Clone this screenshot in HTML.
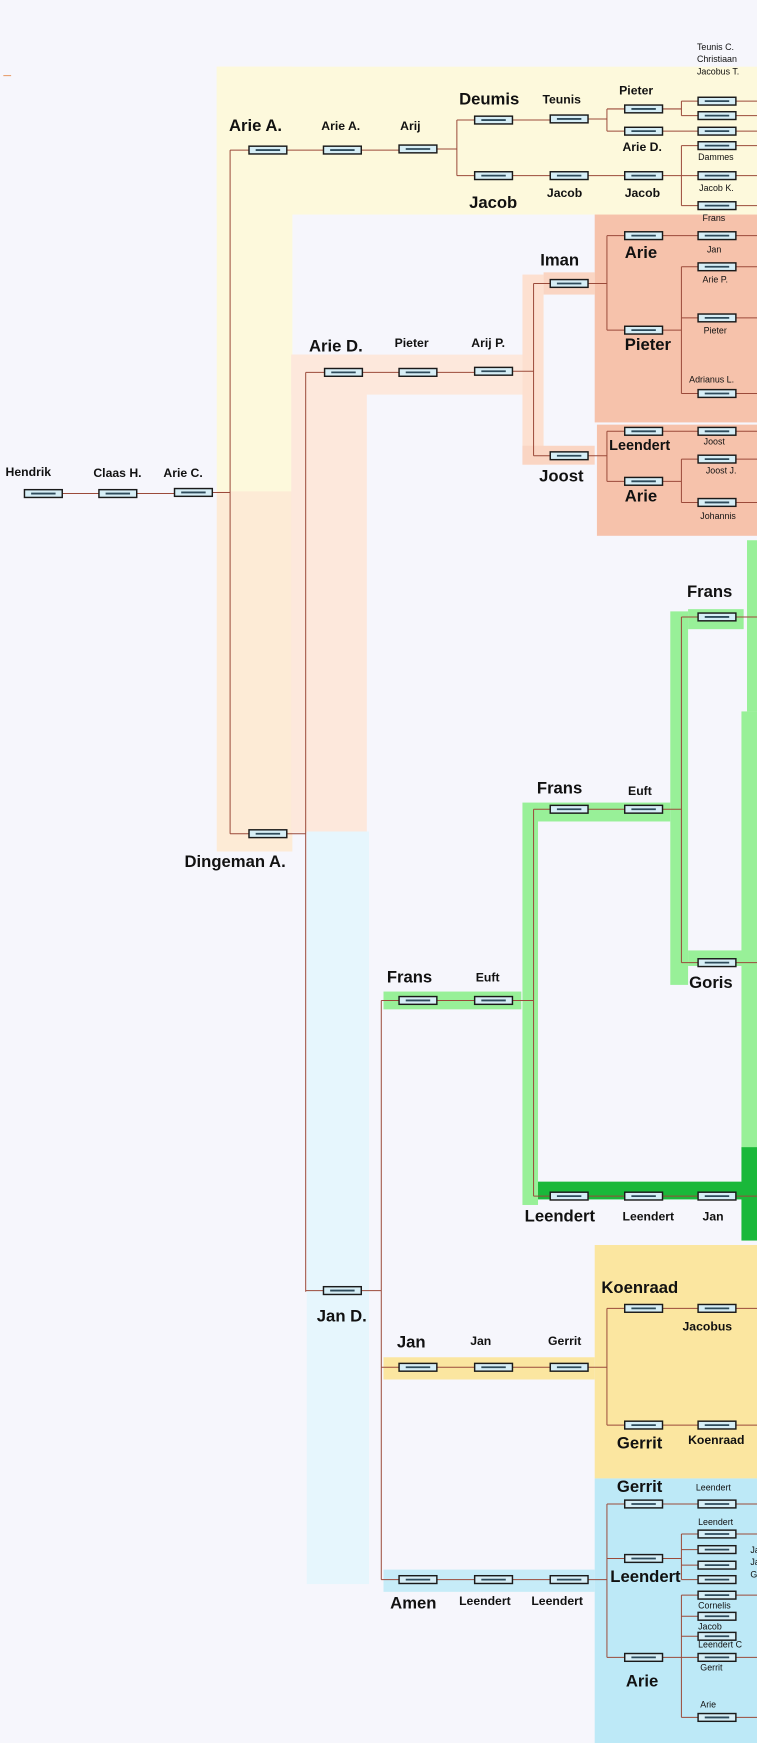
<!DOCTYPE html>
<html><head><meta charset="utf-8"><style>
html,body{margin:0;padding:0;background:#f6f6fc;}
svg{display:block;}
text{font-family:"Liberation Sans",Arial,sans-serif;font-weight:bold;fill:#111;}
.b{font-size:15px;}
.s{font-size:11px;}
.t{font-size:8px;font-weight:normal;}
</style></head><body>
<svg width="757" height="1743" viewBox="0 0 681 1568" preserveAspectRatio="none" xmlns="http://www.w3.org/2000/svg">
<defs>
<g id="n"><rect x="0" y="-3.5" width="34" height="7" fill="#d6eef6" stroke="#1a1a1a" stroke-width="1.3"/><line x1="6" y1="0" x2="28" y2="0" stroke="#2d4a5a" stroke-width="1.6"/></g>
</defs>
<rect width="681" height="1568" fill="#f6f6fc"/>
<line x1="3" y1="68" x2="10" y2="68" stroke="#e8a070" stroke-width="1"/>
<!-- regions -->
<rect x="195" y="60" width="486" height="133" fill="#fdf9dc"/>
<rect x="195" y="60" width="68" height="383" fill="#fdf9dc"/>
<rect x="195" y="442" width="68" height="324" fill="#fdebd6"/>
<rect x="262" y="319" width="68" height="430" fill="#fde8dc"/>
<rect x="262" y="319" width="210" height="36" fill="#fde8dc"/>
<rect x="470" y="247" width="19" height="171" fill="#fde0d0"/>
<rect x="489" y="245" width="46" height="20" fill="#fad5c3"/>
<rect x="470" y="401" width="65" height="17" fill="#fad5c3"/>
<rect x="535" y="193" width="146" height="187" fill="#f6c2ab"/>
<rect x="537" y="382" width="144" height="100" fill="#f6c2ab"/>
<rect x="276" y="748" width="56" height="677" fill="#e6f6fd"/>
<rect x="345" y="1412" width="190" height="20" fill="#c6ecf8"/>
<rect x="345" y="1221" width="190" height="20" fill="#fbe6a0"/>
<rect x="535" y="1120" width="146" height="210" fill="#fbe6a0"/>
<rect x="535" y="1330" width="146" height="238" fill="#bde9f7"/>
<!-- green -->
<rect x="345" y="892" width="124" height="16" fill="#98f098"/>
<rect x="470" y="722" width="14" height="362" fill="#98f098"/>
<rect x="484" y="722" width="119" height="17" fill="#98f098"/>
<rect x="603" y="550" width="16" height="336" fill="#98f098"/>
<rect x="619" y="548" width="50" height="18" fill="#98f098"/>
<rect x="619" y="855" width="50" height="14" fill="#98f098"/>
<rect x="672" y="486" width="9" height="154" fill="#98f098"/>
<rect x="667" y="640" width="14" height="395" fill="#98f098"/>
<rect x="484" y="1063" width="197" height="16" fill="#1ab83a"/>
<rect x="667" y="1032" width="14" height="84" fill="#1ab83a"/>
<rect x="484" y="1079" width="0" height="0" fill="#98f098"/>
<!-- connectors -->
<g stroke="#9b4a3a" stroke-width="0.9" fill="none">
<path d="M56 444H89M123 444H157M191 443H207"/>
<path d="M207 135V750M207 135H224M258 135H291M325 135H359M393 134H411M207 750H224"/>
<path d="M411 108V158M411 108H427M411 158H427M461 108H495M461 158H495M529 107H546M529 158H562"/>
<path d="M546 98V118M546 98H562M546 118H562M596 98H613M613 91V104M613 91H628M613 104H628M596 118H628M596 158H613M613 131V185M613 131H628M613 158H628M613 185H628"/>
<path d="M662 91H681M662 104H681M662 118H681M662 131H681M662 158H681M662 185H681"/>
<path d="M258 750H275M275 335V1162M275 335H292M326 335H359M393 335H427M461 334H480M480 255V410M480 255H495M480 410H495"/>
<path d="M529 255H546M546 212V297M546 212H562M546 297H562M596 212H628M596 297H613M613 240V354M613 240H628M613 286H628M613 354H628"/>
<path d="M529 410H546M546 388V433M546 388H562M546 433H562M596 388H628M596 433H613M613 413V452M613 413H628M613 452H628"/>
<path d="M662 212H681M662 240H681M662 286H681M662 354H681M662 388H681M662 413H681M662 452H681"/>
<path d="M275 1161H291M325 1161H343M343 900V1421M343 900H359M393 900H427M461 900H480M480 728V1076M480 728H495M529 728H562M596 728H613M613 555V866M613 555H628M613 866H628M480 1076H495M529 1076H562M596 1076H628"/>
<path d="M662 555H681M662 866H681M662 1076H681"/>
<path d="M343 1230H359M393 1230H427M461 1230H495M529 1230H546M546 1177V1282M546 1177H562M546 1282H562M596 1177H628M596 1282H628M662 1177H681M662 1282H681"/>
<path d="M343 1421H359M393 1421H427M461 1421H495M529 1421H546M546 1353V1491M546 1353H562M546 1402H562M546 1491H562M596 1353H628M596 1402H613M613 1380V1421M613 1380H628M613 1394H628M613 1408H628M613 1421H628M596 1491H613M613 1435V1545M613 1435H628M613 1454H628M613 1472H628M613 1491H628M613 1545H628"/>
<path d="M662 1353H681M662 1380H681M662 1435H681M662 1491H681M662 1545H681"/>
</g>
<!-- nodes -->
<g>
<use href="#n" x="22" y="444"/><use href="#n" x="89" y="444"/><use href="#n" x="157" y="443"/>
<use href="#n" x="224" y="135"/><use href="#n" x="291" y="135"/><use href="#n" x="359" y="134"/>
<use href="#n" x="427" y="108"/><use href="#n" x="427" y="158"/><use href="#n" x="495" y="107"/><use href="#n" x="495" y="158"/>
<use href="#n" x="562" y="98"/><use href="#n" x="562" y="118"/><use href="#n" x="562" y="158"/>
<use href="#n" x="628" y="91"/><use href="#n" x="628" y="104"/><use href="#n" x="628" y="118"/><use href="#n" x="628" y="131"/><use href="#n" x="628" y="158"/><use href="#n" x="628" y="185"/>
<use href="#n" x="224" y="750"/>
<use href="#n" x="292" y="335"/><use href="#n" x="359" y="335"/><use href="#n" x="427" y="334"/>
<use href="#n" x="495" y="255"/><use href="#n" x="495" y="410"/>
<use href="#n" x="562" y="212"/><use href="#n" x="562" y="297"/><use href="#n" x="628" y="212"/>
<use href="#n" x="628" y="240"/><use href="#n" x="628" y="286"/><use href="#n" x="628" y="354"/>
<use href="#n" x="562" y="388"/><use href="#n" x="562" y="433"/><use href="#n" x="628" y="388"/><use href="#n" x="628" y="413"/><use href="#n" x="628" y="452"/>
<use href="#n" x="291" y="1161"/>
<use href="#n" x="359" y="900"/><use href="#n" x="427" y="900"/>
<use href="#n" x="495" y="728"/><use href="#n" x="562" y="728"/><use href="#n" x="628" y="555"/><use href="#n" x="628" y="866"/>
<use href="#n" x="495" y="1076"/><use href="#n" x="562" y="1076"/><use href="#n" x="628" y="1076"/>
<use href="#n" x="359" y="1230"/><use href="#n" x="427" y="1230"/><use href="#n" x="495" y="1230"/>
<use href="#n" x="562" y="1177"/><use href="#n" x="628" y="1177"/><use href="#n" x="562" y="1282"/><use href="#n" x="628" y="1282"/>
<use href="#n" x="359" y="1421"/><use href="#n" x="427" y="1421"/><use href="#n" x="495" y="1421"/>
<use href="#n" x="562" y="1353"/><use href="#n" x="628" y="1353"/><use href="#n" x="562" y="1402"/><use href="#n" x="562" y="1491"/>
<use href="#n" x="628" y="1380"/><use href="#n" x="628" y="1394"/><use href="#n" x="628" y="1408"/><use href="#n" x="628" y="1421"/>
<use href="#n" x="628" y="1435"/><use href="#n" x="628" y="1454"/><use href="#n" x="628" y="1472"/><use href="#n" x="628" y="1491"/><use href="#n" x="628" y="1545"/>
</g>
<!-- labels -->
<text class="s" x="5" y="428">Hendrik</text>
<text class="s" x="84" y="429">Claas H.</text>
<text class="s" x="147" y="429">Arie C.</text>
<text class="b" x="206" y="118">Arie A.</text>
<text class="s" x="289" y="117">Arie A.</text>
<text class="s" x="360" y="117">Arij</text>
<text class="b" x="413" y="94">Deumis</text>
<text class="s" x="488" y="93">Teunis</text>
<text class="b" x="422" y="187">Jacob</text>
<text class="s" x="492" y="177">Jacob</text>
<text class="s" x="557" y="85">Pieter</text>
<text class="s" x="560" y="136">Arie D.</text>
<text class="s" x="562" y="177">Jacob</text>
<text class="t" x="627" y="45">Teunis C.</text>
<text class="t" x="627" y="56">Christiaan</text>
<text class="t" x="627" y="67">Jacobus T.</text>
<text class="t" x="628" y="144">Dammes</text>
<text class="t" x="629" y="172">Jacob K.</text>
<text class="t" x="632" y="199">Frans</text>
<text class="b" x="278" y="316">Arie D.</text>
<text class="s" x="355" y="312">Pieter</text>
<text class="s" x="424" y="312">Arij P.</text>
<text class="b" x="166" y="780">Dingeman A.</text>
<text class="b" x="486" y="239">Iman</text>
<text class="b" x="485" y="433">Joost</text>
<text class="b" x="562" y="232">Arie</text>
<text class="b" x="562" y="315">Pieter</text>
<text class="t" x="636" y="227">Jan</text>
<text class="t" x="632" y="254">Arie P.</text>
<text class="t" x="633" y="300">Pieter</text>
<text class="t" x="620" y="344">Adrianus L.</text>
<text class="s" x="548" y="405" style="font-size:13px">Leendert</text>
<text class="b" x="562" y="451">Arie</text>
<text class="t" x="633" y="400">Joost</text>
<text class="t" x="635" y="426">Joost J.</text>
<text class="t" x="630" y="467">Johannis</text>
<text class="b" x="618" y="537">Frans</text>
<text class="b" x="483" y="714">Frans</text>
<text class="s" x="565" y="715">Euft</text>
<text class="b" x="620" y="889">Goris</text>
<text class="b" x="348" y="884">Frans</text>
<text class="s" x="428" y="883">Euft</text>
<text class="b" x="472" y="1099">Leendert</text>
<text class="s" x="560" y="1098">Leendert</text>
<text class="s" x="632" y="1098">Jan</text>
<text class="b" x="285" y="1189">Jan D.</text>
<text class="b" x="357" y="1212">Jan</text>
<text class="s" x="423" y="1210">Jan</text>
<text class="s" x="493" y="1210">Gerrit</text>
<text class="b" x="541" y="1163">Koenraad</text>
<text class="s" x="614" y="1197">Jacobus</text>
<text class="b" x="555" y="1303">Gerrit</text>
<text class="s" x="619" y="1299">Koenraad</text>
<text class="b" x="351" y="1447">Amen</text>
<text class="s" x="413" y="1444">Leendert</text>
<text class="s" x="478" y="1444">Leendert</text>
<text class="b" x="555" y="1342">Gerrit</text>
<text class="t" x="626" y="1341">Leendert</text>
<text class="b" x="549" y="1423">Leendert</text>
<text class="b" x="563" y="1517">Arie</text>
<text class="t" x="628" y="1372">Leendert</text>
<text class="t" x="675" y="1397">Ja</text>
<text class="t" x="675" y="1408">Ja</text>
<text class="t" x="675" y="1419">G</text>
<text class="t" x="628" y="1447">Cornelis</text>
<text class="t" x="628" y="1466">Jacob</text>
<text class="t" x="628" y="1482">Leendert C</text>
<text class="t" x="630" y="1503">Gerrit</text>
<text class="t" x="630" y="1536">Arie</text>
</svg>
</body></html>
